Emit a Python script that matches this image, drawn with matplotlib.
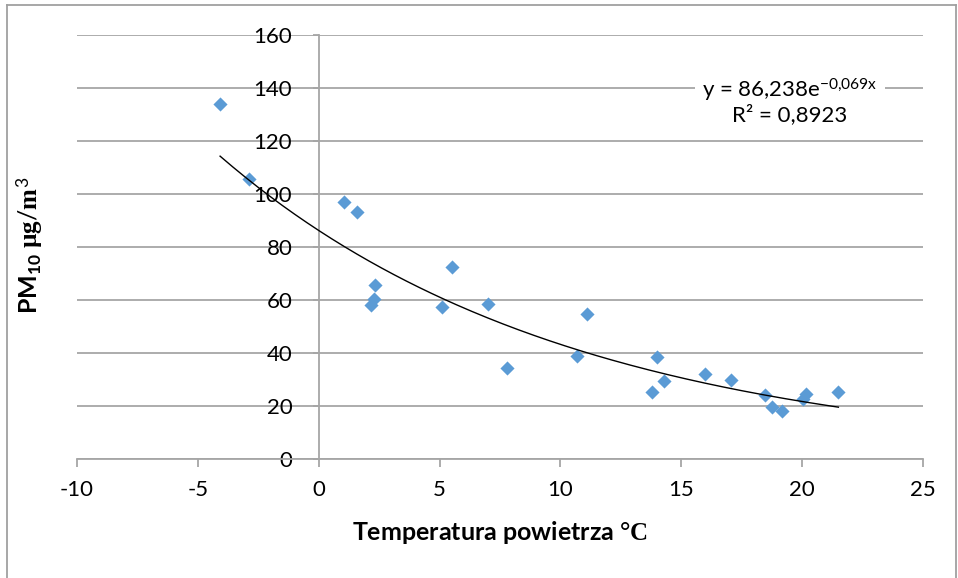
import numpy as np
import matplotlib
matplotlib.use("Agg")
import matplotlib.pyplot as plt
from matplotlib.lines import Line2D

plt.rcParams['font.family'] = ['Lato', 'DejaVu Sans']
plt.rcParams['mathtext.fontset'] = 'custom'
plt.rcParams['mathtext.rm'] = 'Lato'
plt.rcParams['mathtext.bf'] = 'Lato:bold'
plt.rcParams['mathtext.it'] = 'Liberation Serif:bold'
plt.rcParams['axes.unicode_minus'] = False

# Data
temperature = [-4.08, -2.88, 1.05, 1.58, 2.33, 2.29, 2.17, 5.11, 5.52, 7.0, 7.8,
               10.7, 11.1, 13.8, 14.0, 14.3, 16.0, 17.05, 18.45, 18.75, 19.17,
               20.04, 20.16, 21.5]
pm10 = [134, 105.7, 97, 93.2, 65.7, 60.4, 58.1, 57.4, 72.5, 58.5, 34.3,
        38.9, 54.7, 25.3, 38.5, 29.4, 32.1, 29.8, 24.2, 19.6, 18.1,
        22.6, 24.5, 25.3]
trend_a = 86.238
trend_b = -0.069
x_ticks = [-10, -5, 0, 5, 10, 15, 20, 25]
y_ticks = [0, 20, 40, 60, 80, 100, 120, 140, 160]

W, H = 958, 578
fig = plt.figure(figsize=(W / 100, H / 100), dpi=100)
ax = fig.add_axes([77 / W, 1 - 459 / H, (923 - 77) / W, (459 - 35) / H])

grid_c = '#a6a6a6'
ax.set_xlim(-10, 25)
ax.set_ylim(0, 160)
ax.set_yticks(y_ticks)
ax.set_xticks(x_ticks)
ax.yaxis.grid(True, color=grid_c, lw=1.3)
ax.set_axisbelow(True)
for s in ['top', 'right']:
    ax.spines[s].set_visible(False)
ax.spines['left'].set_position(('data', 0))
ax.spines['left'].set_color(grid_c)
ax.spines['bottom'].set_color(grid_c)
ax.spines['left'].set_linewidth(1.3)
ax.spines['bottom'].set_linewidth(1.3)
ax.tick_params(axis='y', length=4, width=1.3, color=grid_c, pad=15, labelsize=16)
ax.tick_params(axis='x', length=6, width=1.3, color=grid_c, pad=9, labelsize=16)

ax.scatter(temperature, pm10, marker='D', s=7.2 ** 2, color='#5b9bd5', zorder=3,
           linewidths=0)

xt = np.linspace(min(temperature), max(temperature), 200)
ax.plot(xt, trend_a * np.exp(trend_b * xt), color='black', lw=1.0, zorder=4)

ax.text((790 - 77) / 846, (459 - 101) / 424,
        "y = 86,238e$^{\\mathrm{-0{,}069x}}$\nR² = 0,8923",
        transform=ax.transAxes, ha='center', va='center', fontsize=16,
        linespacing=1.1, multialignment='center',
        bbox=dict(facecolor='white', edgecolor='none', pad=5), zorder=5)

fig.text(500 / W, 1 - 533 / H, r"Temperatura powietrza $\mathit{°C}$",
         ha='center', va='center', fontsize=18, fontweight='bold')
fig.text(30 / W, 1 - 245 / H, r"$\mathbf{PM_{10}}$ $\mathit{µg/m^3}$",
         ha='center', va='center', fontsize=18, fontweight='bold', rotation=90)

border_c = '#a0a0a0'
l, t, r = 7 / W, 1 - 5 / H, 956 / W
fig.add_artist(Line2D([l, l], [0, t], transform=fig.transFigure, color=border_c, lw=1.3))
fig.add_artist(Line2D([l, r], [t, t], transform=fig.transFigure, color=border_c, lw=1.3))
fig.add_artist(Line2D([r, r], [0, t], transform=fig.transFigure, color=border_c, lw=1.3))

fig.savefig('out.png', dpi=100)
